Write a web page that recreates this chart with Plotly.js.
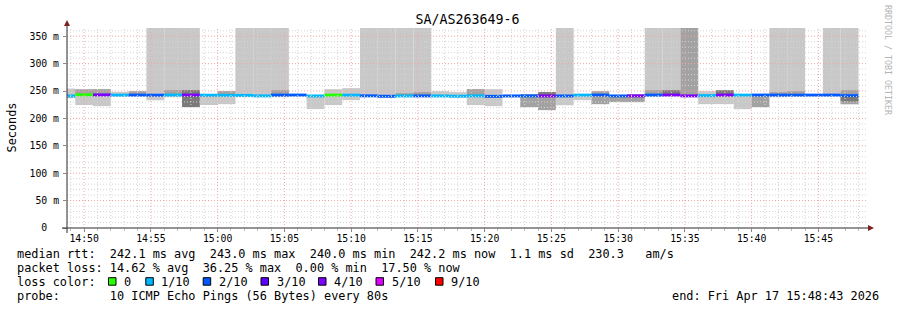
<!DOCTYPE html>
<html><head><meta charset="utf-8">
<script src="https://cdn.plot.ly/plotly-3.0.1.min.js"></script>
<style>html,body{margin:0;padding:0;background:#fff;}#chart{width:897px;height:310px;}</style>
</head><body><div id="chart"></div>
<script>
// ---------- data (one value per 80 s step, 14:48:00 .. 15:48:00) ----------
const stepStart = '2026-04-17 14:48:00';
const stepSeconds = 80;
const rangeStart = '2026-04-17 14:48:43';
const rangeEnd = '2026-04-17 15:48:43';

const medianRtt = [241.0,243.0,242.9,242.4,242.5,242.4,242.5,242.6,242.4,242.1,242.0,241.1,242.5,242.6,241.0,242.5,242.4,241.2,240.4,241.0,241.1,241.0,240.5,241.2,240.3,241.0,241.1,241.0,241.0,242.5,242.6,241.0,241.1,242.5,242.6,241.1,241.6,242.5,242.5,242.6,242.5,242.4,242.5,242.5,241.6];
const lossIndex = [1,0,4,1,2,2,1,4,1,1,1,1,2,2,1,0,1,2,2,1,2,1,1,1,2,2,2,4,2,1,2,2,4,2,4,4,1,4,1,2,2,2,2,2,2];

const smokeLightLo = [237,224.5,222.4,240,null,233.3,238.8,244,224.5,226,238.8,240,238.8,null,217,224.2,233.3,240,240,241,242,242.4,242,224.2,222.4,null,null,null,224.2,233.3,null,null,null,240,242,null,226,226,216.9,null,238.8,242,null,242,226];
const smokeLightHi = [254.5,253,253.4,248.5,null,365,365,365,243,249.7,365,365,365,null,240,253.4,255.2,365,365,365,365,249.7,247.9,253.4,253.4,null,null,null,365,244,null,null,null,365,365,null,249.7,244,244,null,365,365,null,365,365];
const smokeMidLo = [null,244,244,null,244,null,244,244,239,244,null,null,244,null,null,null,null,null,null,242.4,242.4,null,null,242.4,null,null,220.6,215.1,null,null,226,229.7,229.7,244,null,242,null,null,null,220.6,244,244,null,null,226];
const smokeMidHi = [null,253,253.4,null,249.7,null,251.6,251.6,242,249.7,null,null,251.6,null,null,null,null,null,null,246.1,247.9,null,null,253.4,null,null,244.3,247.9,null,null,249.7,241,244.3,251.6,null,365,null,null,null,244,247.9,249.7,null,null,251.6];
const smokeDarkLo = [null,null,null,null,null,null,null,220.6,null,null,null,null,null,null,null,null,null,null,null,null,null,null,null,null,null,null,null,242,null,null,null,null,null,null,244,null,null,244,null,null,null,null,null,null,231];
const smokeDarkHi = [null,null,null,null,null,null,null,251.6,null,null,null,null,null,null,null,null,null,null,null,null,null,null,null,null,null,null,null,248,null,null,null,null,null,null,251.6,null,null,251.6,null,null,null,null,null,null,239];

const lossLabels = ['0','1/10','2/10','3/10','4/10','5/10','9/10'];
const lossColors = ['#26ff00','#00b8ff','#0059ff','#5e00ff','#7e00ff','#dd00ff','#ff0000'];

const yTickVals = [0,50,100,150,200,250,300,350];
const yTickText = ['0\u00a0\u00a0','50 m','100 m','150 m','200 m','250 m','300 m','350 m'];

const legendMedian = 'median rtt:  242.1 ms avg  243.0 ms max  240.0 ms min  242.2 ms now  1.1 ms sd  230.3   am/s';
const legendLoss = 'packet loss: 14.62 % avg  36.25 % max  0.00 % min  17.50 % now';
const legendProbe = 'probe:       10 ICMP Echo Pings (56 Bytes) every 80s';
const legendEnd = 'end: Fri Apr 17 15:48:43 2026';
const chartTitle = 'SA/AS263649-6';

// ---------- layout constants ----------
const W = 897, H = 310, L = 67, R = 868, T = 28, B = 228;
const MONO = 'DejaVu Sans Mono';
const px = x => (x - L) / (R - L);
const py = y => (B - y) / (B - T);
const nb = s => s.replace(/ /g, '\u00a0');

function parseT(s){ const [d,t]=s.split(' '); const [Y,M,D]=d.split('-').map(Number); const [h,m,sec]=t.split(':').map(Number); return Date.UTC(Y,M-1,D,h,m,sec); }
function fmtT(ms){ return new Date(ms).toISOString().slice(0,19).replace('T',' '); }

const t0 = parseT(stepStart);
const times = medianRtt.map((_, i) => fmtT(t0 + (i * stepSeconds + stepSeconds / 2) * 1000));
const barW = stepSeconds * 1000;

function band(lo, hi, color){
  return {type:'bar', x:times, base:lo.map(v=>v===null?null:v), y:lo.map((v,i)=>v===null?null:hi[i]-v),
    width:barW, marker:{color:color, line:{width:0}}, hoverinfo:'skip', showlegend:false};
}
const half = 2.7;
const traces = [
  band(smokeLightLo, smokeLightHi, '#c8c8c8'),
  band(smokeMidLo, smokeMidHi, '#a2a2a2'),
  band(smokeDarkLo, smokeDarkHi, '#7a7a7a'),
  {type:'bar', x:times, base:medianRtt.map(v=>v-half), y:medianRtt.map(()=>2*half), width:barW,
   marker:{color:lossIndex.map(i=>lossColors[i]), line:{width:0}}, hoverinfo:'skip', showlegend:false}
];

// grid drawn above data (as rrdtool does)
const shapes = [];
const tS = parseT(rangeStart), tE = parseT(rangeEnd);
const minorH = [], majorH = [];
for (let v = 10; v <= 360; v += 10) (v % 50 === 0 ? majorH : minorH).push(v);
const minorV = [], majorV = [];
for (let t = Math.ceil(tS / 60000) * 60000; t <= tE; t += 60000) ((t / 60000) % 5 === 0 ? majorV : minorV).push(t);
const gridLine = (c) => ({color:c, width:1, dash:'1px,2px'});
minorH.forEach(v => shapes.push({type:'line', layer:'above', xref:'paper', yref:'y', x0:0, x1:1, y0:v, y1:v, line:gridLine('#d4d4d4')}));
minorV.forEach(t => shapes.push({type:'line', layer:'above', xref:'x', yref:'paper', x0:fmtT(t), x1:fmtT(t), y0:0, y1:1, line:gridLine('#d4d4d4')}));
majorH.forEach(v => shapes.push({type:'line', layer:'above', xref:'paper', yref:'y', x0:0, x1:1, y0:v, y1:v, line:gridLine('#f2a4a4')}));
majorV.forEach(t => shapes.push({type:'line', layer:'above', xref:'x', yref:'paper', x0:fmtT(t), x1:fmtT(t), y0:0, y1:1, line:gridLine('#f2a4a4')}));
// axis lines and arrows
shapes.push({type:'line', layer:'above', xref:'paper', yref:'paper', x0:px(62), x1:px(869), y0:0, y1:0, line:{color:'#2a2a2a', width:1}});
shapes.push({type:'line', layer:'above', xref:'paper', yref:'paper', x0:0, x1:0, y0:py(233), y1:py(25), line:{color:'#2a2a2a', width:1}});
shapes.push({type:'path', layer:'above', xref:'paper', yref:'paper', path:`M ${px(868)} ${py(225)} L ${px(874)} ${py(228)} L ${px(868)} ${py(231)} Z`, fillcolor:'#7f1f1f', line:{width:0}});
shapes.push({type:'path', layer:'above', xref:'paper', yref:'paper', path:`M ${px(64)} ${py(26)} L ${px(67)} ${py(20)} L ${px(70)} ${py(26)} Z`, fillcolor:'#7f1f1f', line:{width:0}});

// legend colour squares
const sqX = [108.5, 145.8, 203.2, 261, 318.5, 376, 435.5];
const lblX = [123, 160, 218, 276, 333.3, 391, 450];
sqX.forEach((x,i) => shapes.push({type:'rect', layer:'above', xref:'paper', yref:'paper', x0:px(x), x1:px(x+7.5), y0:py(285.2), y1:py(277.7), fillcolor:lossColors[i], line:{color:'#000', width:1}}));

const ann = (text, x, y, extra={}) => Object.assign({text:nb(text), x:px(x), y:py(y), xref:'paper', yref:'paper', showarrow:false,
  xanchor:'left', yanchor:'middle', borderpad:0, font:{family:MONO, size:11.86, color:'#000'}}, extra);
const annotations = [
  ann(legendMedian, 16, 253.6),
  ann(legendLoss, 16, 268.2),
  ann('loss color:', 16, 281.9),
  ann(legendProbe, 16, 295.8),
  ann(legendEnd, 880.5, 295.8, {xanchor:'right'}),
  ann('Seconds', 11.5, 128, {xanchor:'center', textangle:-90}),
  ann('RRDTOOL / TOBI OETIKER', 888, 60, {xanchor:'center', textangle:90, font:{family:MONO, size:8.3, color:'#b4b4b4'}})
];
lossLabels.forEach((t,i) => annotations.push(ann(t, lblX[i], 281.9)));

const layout = {
  width:W, height:H, margin:{l:L, r:W-R, t:T, b:H-B, pad:0},
  paper_bgcolor:'#ffffff', plot_bgcolor:'#ffffff',
  barmode:'overlay', hovermode:false, showlegend:false,
  title:{text:chartTitle, x:0.5, xref:'paper', xanchor:'center', y:1-18.9/H, yanchor:'middle', yref:'container',
         font:{family:MONO, size:13.3, color:'#000'}},
  xaxis:{type:'date', range:[rangeStart, rangeEnd], showgrid:false, zeroline:false, showline:false,
         tick0:'2026-04-17 14:50:00', dtick:300000, tickformat:'%H:%M',
         ticks:'outside', ticklen:3, tickcolor:'#888', ticklabelstandoff:-2, tickfont:{family:MONO, size:9.8, color:'#000'},
         minor:{dtick:60000, ticks:'outside', ticklen:2, tickcolor:'#bbb', showgrid:false}},
  yaxis:{range:[0,365], showgrid:false, zeroline:false, showline:false, tickmode:'array', tickvals:yTickVals, ticktext:yTickText,
         ticks:'outside', ticklen:3, tickcolor:'#888', ticklabelstandoff:2, tickfont:{family:MONO, size:9.8, color:'#000'}},
  shapes:shapes, annotations:annotations
};
Plotly.newPlot('chart', traces, layout, {displayModeBar:false, staticPlot:true});
</script></body></html>
